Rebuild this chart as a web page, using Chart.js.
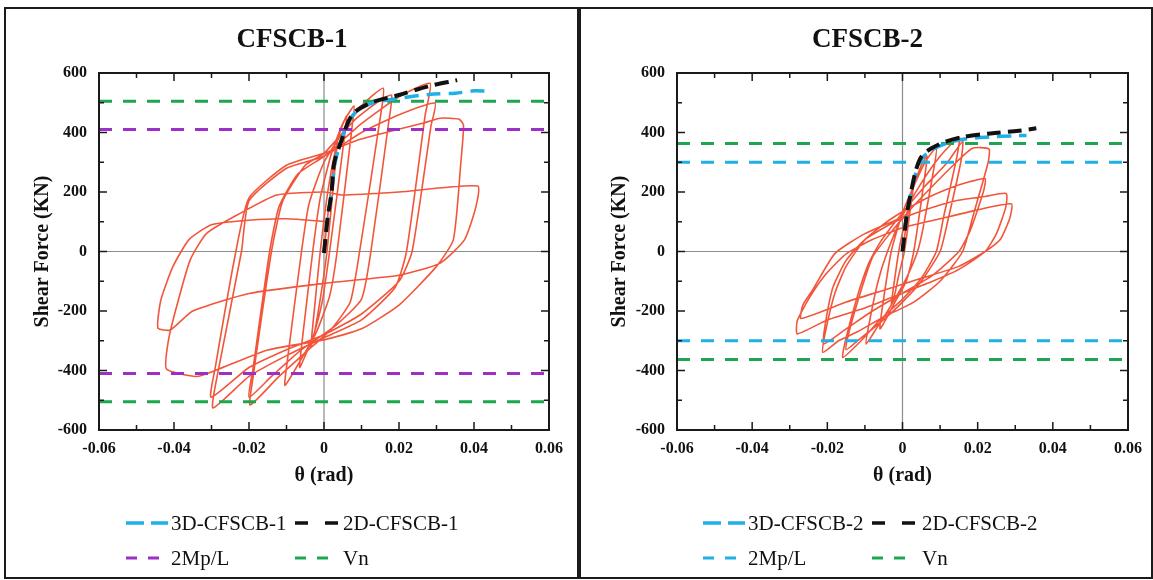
<!DOCTYPE html>
<html>
<head>
<meta charset="utf-8">
<script src="https://cdn.jsdelivr.net/npm/chart.js@4.4.1/dist/chart.umd.min.js"></script>
<style>
  html, body { margin: 0; padding: 0; background: #fff; }
  body { width: 1153px; height: 580px; position: relative; overflow: hidden; }
  .frame { position: absolute; left: 4px; top: 7px; width: 1149px; height: 572px; border: 2px solid #1b1b1b; box-sizing: border-box; }
  .divider { position: absolute; left: 577px; top: 7px; width: 4px; height: 572px; background: #1b1b1b; }
  canvas { position: absolute; top: 9px; }
  #chart1 { left: 7px; }
  #chart2 { left: 584px; }
</style>
</head>
<body>
<div class="frame"></div>
<div class="divider"></div>
<canvas id="chart1" width="570" height="567"></canvas>
<canvas id="chart2" width="567" height="567"></canvas>
<script>
// axis ticks
const xTicks = [-0.06, -0.04, -0.02, 0, 0.02, 0.04, 0.06];
const xTickLabels = ['-0.06', '-0.04', '-0.02', '0', '0.02', '0.04', '0.06'];
const yTicks = [-600, -400, -200, 0, 200, 400, 600];
const yTickLabels = ['-600', '-400', '-200', '0', '200', '400', '600'];

// CFSCB-1 : test hysteresis (theta rad, shear kN)
const loops1 = [
  [0,0],[0.001,120],[0.002,230],[0.003,330],[0.0035,370],[0.003,290],[0.0008,0],[-0.001,-160],[-0.0025,-270],[-0.0035,-320],
  [-0.003,-250],[-0.001,0],[0.001,200],[0.003,340],[0.0045,410],[0.006,455],
  [0.0055,390],[0.0015,0],[-0.0005,-170],[-0.003,-290],[-0.005,-350],[-0.0065,-390],
  [-0.006,-320],[-0.003,0],[-0.001,180],[0.002,330],[0.005,430],[0.008,490],
  [0.0075,420],[0.0035,0],[0.0015,-150],[-0.002,-270],[-0.006,-360],[-0.0104,-450],
  [-0.0098,-370],[-0.006,0],[-0.004,160],[0,300],[0.005,400],[0.01,490],[0.0158,549],
  [0.015,450],[0.0095,0],[0.007,-170],[0.002,-260],[-0.005,-340],[-0.012,-420],[-0.0197,-516],
  [-0.019,-430],[-0.014,0],[-0.011,170],[-0.005,290],[0,330],[0.008,440],[0.014,500],[0.018,526],
  [0.0172,430],[0.0125,0],[0.01,-160],[0.003,-250],[-0.006,-330],[-0.014,-420],[-0.02,-490],
  [-0.019,-400],[-0.0145,0],[-0.012,150],[-0.007,260],[0,320],[0.01,430],[0.02,520],[0.0283,565],
  [0.027,460],[0.022,0],[0.019,-120],[0.01,-230],[0,-290],[-0.01,-350],[-0.02,-420],[-0.0296,-526],
  [-0.0285,-420],[-0.022,0],[-0.02,170],[-0.01,280],[0,320],[0.01,400],[0.02,460],[0.0296,499],
  [0.0285,420],[0.0235,0],[0.02,-100],[0.01,-210],[0,-280],[-0.01,-330],[-0.02,-390],[-0.0301,-490],
  [-0.029,-390],[-0.0235,0],[-0.02,180],[-0.01,290],[0,330],[0.009,375],[0.018,405],[0.026,430],[0.031,448],[0.036,445],[0.0372,425],
  [0.0365,300],[0.0345,40],[0.03,-50],[0.02,-180],[0.01,-260],[0,-297],[-0.015,-331],[-0.029,-400],[-0.034,-420],[-0.042,-395],
  [-0.0415,-300],[-0.0393,-185],[-0.0357,-29],[-0.0313,61],[-0.0224,128],[-0.0126,190],[0,200],[0.005,190],[0.02,200],[0.041,220],
  [0.0405,150],[0.0375,40],[0.031,-39],[0.02,-80],[0,-107],[-0.02,-141],[-0.035,-200],[-0.041,-264],[-0.0443,-257],
  [-0.0435,-163],[-0.0403,-51],[-0.036,40],[-0.03,90],[-0.02,105],[-0.01,110],[0.001,100]
];
const env3D1 = [[0,-5],[0.001,110],[0.002,200],[0.003,300],[0.0045,370],[0.0075,455],[0.012,495],[0.02,515],[0.028,528],[0.035,532],[0.04,540],[0.0435,539]];
const env2D1 = [[0,-5],[0.001,116],[0.002,196],[0.0027,297],[0.0044,364],[0.0075,459],[0.0123,499],[0.02,526],[0.028,556],[0.0355,576]];
const mpL1 = [410, -410];
const vn1 = [505, -505];

// CFSCB-2
const loops2 = [
  [0,0],[0.001,90],[0.002,170],[0.003,230],[0.0025,180],[0.0005,0],[-0.001,-80],[-0.002,-140],[-0.003,-180],
  [-0.0025,-130],[-0.001,0],[0.001,120],[0.003,220],[0.005,290],[0.0065,320],
  [0.006,260],[0.003,0],[0.001,-100],[-0.002,-170],[-0.0045,-230],[-0.006,-260],
  [-0.0055,-200],[-0.003,0],[0,130],[0.003,220],[0.006,300],[0.009,350],
  [0.0085,290],[0.0055,80],[0.004,0],[0.001,-90],[-0.003,-180],[-0.007,-260],[-0.0097,-311],
  [-0.009,-250],[-0.0065,-100],[-0.004,0],[0,120],[0.005,230],[0.01,320],[0.0151,385],
  [0.0145,320],[0.011,120],[0.009,0],[0.005,-90],[0,-160],[-0.006,-230],[-0.011,-300],[-0.0159,-356],
  [-0.015,-290],[-0.012,-150],[-0.009,-40],[-0.006,30],[0,130],[0.006,220],[0.012,300],[0.016,370],
  [0.0155,300],[0.012,100],[0.01,0],[0.005,-100],[0,-170],[-0.006,-240],[-0.011,-290],[-0.015,-330],
  [-0.014,-260],[-0.011,-130],[-0.008,-20],[-0.004,50],[0.002,140],[0.008,220],[0.0135,290],[0.0186,347],[0.023,345],
  [0.0228,300],[0.019,130],[0.016,0],[0.01,-100],[0.003,-170],[-0.005,-220],[-0.012,-270],[-0.017,-300],[-0.0212,-339],
  [-0.0205,-270],[-0.018,-140],[-0.015,-50],[-0.01,40],[-0.003,110],[0.005,170],[0.012,210],[0.018,235],[0.022,245],
  [0.0215,200],[0.018,70],[0.015,0],[0.008,-80],[0,-140],[-0.008,-200],[-0.015,-260],[-0.021,-310],
  [-0.0205,-240],[-0.0185,-120],[-0.015,-30],[-0.01,40],[-0.002,100],[0.006,140],[0.014,170],[0.022,185],[0.0276,195],
  [0.0275,150],[0.025,60],[0.022,0],[0.015,-60],[0.008,-100],[0,-140],[-0.01,-190],[-0.02,-230],[-0.028,-277],[-0.028,-233],
  [-0.0247,-154],[-0.0203,-75],[-0.015,-8],[-0.008,40],[0,80],[0.01,110],[0.02,140],[0.029,160],
  [0.0285,110],[0.026,40],[0.022,0],[0.015,-50],[0.005,-90],[-0.005,-130],[-0.015,-170],[-0.027,-225],
  [-0.0265,-180],[-0.024,-131],[-0.018,-7],[-0.01,60],[0,115]
];
const env3D2 = [[0,0],[0.0012,125],[0.0022,190],[0.0035,262],[0.005,310],[0.0076,340],[0.0114,362],[0.0165,378],[0.0234,385],[0.0298,389],[0.033,390]];
const env2D2 = [[0,0],[0.0012,128],[0.0022,195],[0.0035,270],[0.005,318],[0.0076,346],[0.0114,369],[0.0165,386],[0.0234,397],[0.031,406],[0.0356,414]];
const mpL2 = [300, -300];
const vn2 = [363, -363];

const RED = '#f2553a', CYAN = '#1fb0e6', BLACK = '#111111', PURPLE = '#9b2fc6', GREEN = '#1ea550';
const SERIF = '"Liberation Serif", "Times New Roman", serif';

function pts(arr) { return arr.map(([x, y]) => ({x, y})); }
function curve(arr, color, width, dash, tension) {
  return { data: pts(arr), showLine: true, borderColor: color, borderWidth: width, borderDash: dash || [], pointRadius: 0, tension: tension || 0, fill: false };
}
function level(v, color) {
  return { data: [{x: xTicks[0], y: v}, {x: xTicks[xTicks.length - 1], y: v}], showLine: true, borderColor: color, borderWidth: 3, borderDash: [13, 11], pointRadius: 0, fill: false };
}

const panelPlugin = {
  id: 'panel',
  beforeDatasetsDraw(chart) {
    const {ctx, chartArea: a, scales: {x, y}} = chart;
    ctx.save();
    ctx.strokeStyle = '#8c8c8c';
    ctx.lineWidth = 1.2;
    const px = x.getPixelForValue(0), py = y.getPixelForValue(0);
    ctx.beginPath();
    ctx.moveTo(px, a.top); ctx.lineTo(px, a.bottom);
    ctx.moveTo(a.left, py); ctx.lineTo(a.right, py);
    ctx.stroke();
    ctx.restore();
  },
  afterDraw(chart, args, opts) {
    const {ctx, chartArea: a, scales: {x, y}} = chart;
    ctx.save();
    ctx.strokeStyle = '#1a1a1a';
    ctx.lineWidth = 2;
    ctx.setLineDash([]);
    ctx.strokeRect(a.left, a.top, a.right - a.left, a.bottom - a.top);
    // inward ticks, major + minor
    ctx.lineWidth = 1.5;
    ctx.beginPath();
    const xt = [], yt = [];
    xTicks.forEach((v, i) => { xt.push([v, 8]); if (i < xTicks.length - 1) xt.push([(v + xTicks[i + 1]) / 2, 5]); });
    yTicks.forEach((v, i) => { yt.push([v, 8]); if (i < yTicks.length - 1) yt.push([(v + yTicks[i + 1]) / 2, 5]); });
    xt.forEach(([v, len]) => {
      const p = x.getPixelForValue(v);
      ctx.moveTo(p, a.bottom); ctx.lineTo(p, a.bottom - len);
      ctx.moveTo(p, a.top); ctx.lineTo(p, a.top + len);
    });
    yt.forEach(([v, len]) => {
      const p = y.getPixelForValue(v);
      ctx.moveTo(a.left, p); ctx.lineTo(a.left + len, p);
      ctx.moveTo(a.right, p); ctx.lineTo(a.right - len, p);
    });
    ctx.stroke();
    // panel title
    ctx.fillStyle = '#111';
    ctx.font = 'bold 27px ' + SERIF;
    ctx.textAlign = 'center';
    ctx.textBaseline = 'middle';
    ctx.fillText(opts.title, chart.width / 2, 31);
    // legend (two columns, two rows)
    ctx.font = '21px ' + SERIF;
    ctx.textAlign = 'left';
    opts.items.forEach((it, i) => {
      const col = i % 2, row = Math.floor(i / 2);
      const ly = opts.rowY[row];
      const sx = opts.sampleX[col];
      ctx.strokeStyle = it.color;
      ctx.lineWidth = it.width;
      ctx.setLineDash(it.dash);
      ctx.beginPath();
      ctx.moveTo(sx, ly); ctx.lineTo(sx + it.len, ly);
      ctx.stroke();
      ctx.setLineDash([]);
      ctx.fillStyle = '#111';
      ctx.fillText(it.text, opts.textX[col], ly + 1);
    });
    ctx.restore();
  }
};

function makeChart(id, title, loops, env3D, env2D, mpL, vn, mpColor, labels, yWidth, padRight, textX) {
  return new Chart(document.getElementById(id), {
    type: 'scatter',
    data: {
      datasets: [
        curve(env2D, BLACK, 4, [14, 7], 0.3),
        curve(env3D, CYAN, 3.5, [14, 8], 0.3),
        level(vn[0], GREEN), level(vn[1], GREEN),
        level(mpL[0], mpColor), level(mpL[1], mpColor),
        curve(loops, RED, 1.6, [], 0.18)
      ]
    },
    options: {
      responsive: false,
      animation: false,
      events: [],
      layout: { padding: { top: 64, left: 0, right: padRight, bottom: 0 } },
      plugins: {
        legend: { display: false },
        tooltip: { enabled: false },
        panel: {
          title: title,
          rowY: [514, 549],
          sampleX: [119, 288],
          textX: textX,
          items: [
            { text: labels[0], color: CYAN, width: 3.5, dash: [18, 7], len: 42 },
            { text: labels[1], color: BLACK, width: 3.5, dash: [13, 17], len: 43 },
            { text: labels[2], color: mpColor, width: 3, dash: [11, 11], len: 33 },
            { text: labels[3], color: GREEN, width: 3, dash: [11, 11], len: 33 }
          ]
        }
      },
      scales: {
        x: {
          type: 'linear', min: xTicks[0], max: xTicks[xTicks.length - 1],
          afterBuildTicks: s => { s.ticks = xTicks.map(v => ({value: v})); },
          afterFit: s => { s.height = 146; },
          grid: { display: false, drawTicks: false },
          border: { display: false },
          ticks: { callback: (v, i) => xTickLabels[i], padding: 9, maxRotation: 0, autoSkip: false, color: '#111', font: { family: SERIF, size: 16, weight: 'bold' } },
          title: { display: true, text: 'θ (rad)', color: '#111', font: { family: SERIF, size: 20, weight: 'bold' }, padding: { top: 0, bottom: 88 } }
        },
        y: {
          type: 'linear', min: yTicks[0], max: yTicks[yTicks.length - 1],
          afterBuildTicks: s => { s.ticks = yTicks.map(v => ({value: v})); },
          afterFit: s => { s.width = yWidth; },
          grid: { display: false, drawTicks: false },
          border: { display: false },
          ticks: { callback: (v, i) => yTickLabels[i], padding: 12, autoSkip: false, color: '#111', font: { family: SERIF, size: 16, weight: 'bold' } },
          title: { display: true, text: 'Shear Force (KN)', color: '#111', font: { family: SERIF, size: 20, weight: 'bold' }, padding: { top: 24, bottom: 0 } }
        }
      }
    },
    plugins: [panelPlugin]
  });
}

makeChart('chart1', 'CFSCB-1', loops1, env3D1, env2D1, mpL1, vn1, PURPLE,
  ['3D-CFSCB-1', '2D-CFSCB-1', '2Mp/L', 'Vn'], 92, 28, [164, 336]);
makeChart('chart2', 'CFSCB-2', loops2, env3D2, env2D2, mpL2, vn2, CYAN,
  ['3D-CFSCB-2', '2D-CFSCB-2', '2Mp/L', 'Vn'], 93, 22, [164, 338]);
</script>
</body>
</html>
